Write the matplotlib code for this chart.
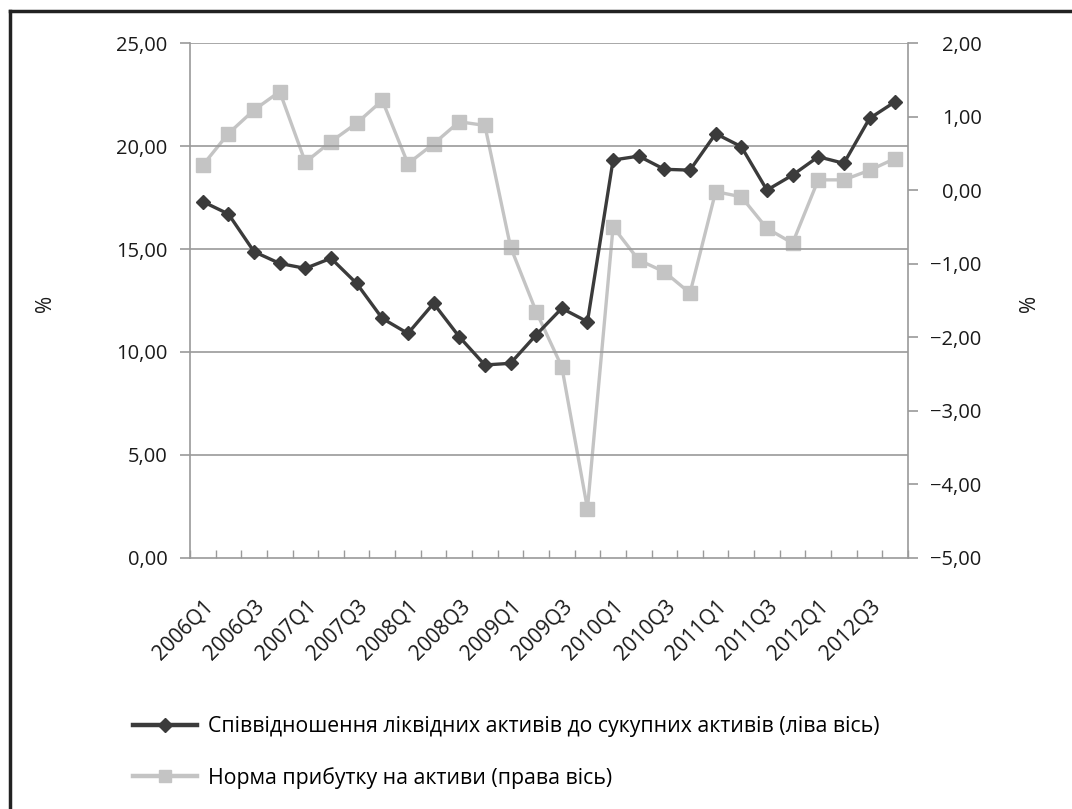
import numpy as np
import matplotlib.pyplot as plt
from matplotlib.lines import Line2D
from matplotlib.ticker import FuncFormatter, MultipleLocator

plt.rcParams['font.family'] = ['Open Sans', 'DejaVu Sans']

quarters = [f'{y}Q{q}' for y in range(2006, 2013) for q in range(1, 5)]
liquid_ratio = [17.3, 16.7, 14.87, 14.3, 14.06, 14.55, 13.33, 11.63, 10.9, 12.36,
                10.74, 9.37, 9.45, 10.83, 12.12, 11.47, 19.32, 19.51, 18.87, 18.83,
                20.6, 19.97, 17.86, 18.59, 19.48, 19.16, 21.34, 22.15]
roa = [0.34, 0.77, 1.09, 1.34, 0.38, 0.66, 0.91, 1.22, 0.36, 0.63,
       0.93, 0.88, -0.77, -1.65, -2.40, -4.33, -0.50, -0.95, -1.11, -1.40,
       -0.02, -0.09, -0.52, -0.72, 0.14, 0.14, 0.27, 0.43]
label_left = 'Співвідношення ліквідних активів до сукупних активів (ліва вісь)'
label_right = 'Норма прибутку на активи (права вісь)'

dark = '#3b3b3b'
light = '#c4c4c4'
grid_c = '#9a9a9a'
text_c = '#1a1a1a'

def comma_fmt(v, pos):
    s = f'{abs(v):.2f}'.replace('.', ',')
    return ('\u2212' + s) if v < -1e-9 else s

fig = plt.figure(figsize=(10.72, 8.09), dpi=100)
ax = fig.add_axes([0.1772, 0.3103, 0.6698, 0.6365])
ax2 = ax.twinx()
ax.set_zorder(ax2.get_zorder() + 1)
ax.patch.set_visible(False)

x = np.arange(len(quarters))
ax2.plot(x, roa, color=light, lw=2.4, marker='s', ms=10, mfc=light, mec=light)
ax.plot(x, liquid_ratio, color=dark, lw=2.4, marker='D', ms=7.5, mfc=dark, mec=dark)

ax.set_xlim(-0.5, len(quarters) - 0.5)
ax.set_ylim(0, 25)
ax2.set_ylim(-5, 2)
ax.yaxis.set_major_locator(MultipleLocator(5))
ax2.yaxis.set_major_locator(MultipleLocator(1))
ax.yaxis.set_major_formatter(FuncFormatter(comma_fmt))
ax2.yaxis.set_major_formatter(FuncFormatter(comma_fmt))

for y in np.arange(5, 26, 5):
    ax.axhline(y, color=grid_c, lw=1.2, zorder=0)

for a in (ax, ax2):
    for s in a.spines.values():
        s.set_visible(False)
ax.spines['left'].set_visible(True)
ax.spines['bottom'].set_visible(True)
ax2.spines['right'].set_visible(True)
for s in (ax.spines['left'], ax.spines['bottom'], ax2.spines['right']):
    s.set_color(grid_c)
    s.set_linewidth(1.2)

ax.tick_params(axis='y', colors=grid_c, labelcolor=text_c, labelsize=14.5,
               length=7, width=1.2, pad=9)
ax2.tick_params(axis='y', colors=grid_c, labelcolor=text_c, labelsize=14.5,
                length=7, width=1.2, pad=46)
for t in ax2.get_yticklabels():
    t.set_ha('right')

ax.set_xticks(x[::2])
ax.set_xticklabels(quarters[::2], rotation=45, ha='right', rotation_mode='anchor',
                   fontsize=15, color=text_c)
ax.set_xticks(np.arange(-0.5, len(quarters), 1), minor=True)
ax.tick_params(axis='x', which='major', length=0, pad=27)
ax.tick_params(axis='x', which='minor', length=6, width=1.0, colors=grid_c, direction='in')

fig.text(45 / 1072, 1 - 303 / 809, '%', rotation=90, fontsize=15,
         ha='center', va='center', color=text_c)
fig.text(1030 / 1072, 1 - 303 / 809, '%', rotation=90, fontsize=15,
         ha='center', va='center', color=text_c)

handles = [
    Line2D([], [], color=dark, lw=3.2, marker='D', ms=7, mfc=dark, mec=dark),
    Line2D([], [], color=light, lw=3.2, marker='s', ms=9, mfc=light, mec=light),
]
fig.legend(handles, [label_left, label_right], loc='upper left',
           bbox_to_anchor=(114 / 1072, 1 - 697 / 809), frameon=False,
           fontsize=15.3, handlelength=3.0, handletextpad=0.5, labelspacing=1.4)

# frame along the top and left edges
fig.add_artist(Line2D([10 / 1072, 10 / 1072], [0, 1 - 11 / 809], color='#222222', lw=2.5))
fig.add_artist(Line2D([10 / 1072, 1], [1 - 11 / 809, 1 - 11 / 809], color='#222222', lw=2.5))

fig.savefig('out.png', dpi=100)
